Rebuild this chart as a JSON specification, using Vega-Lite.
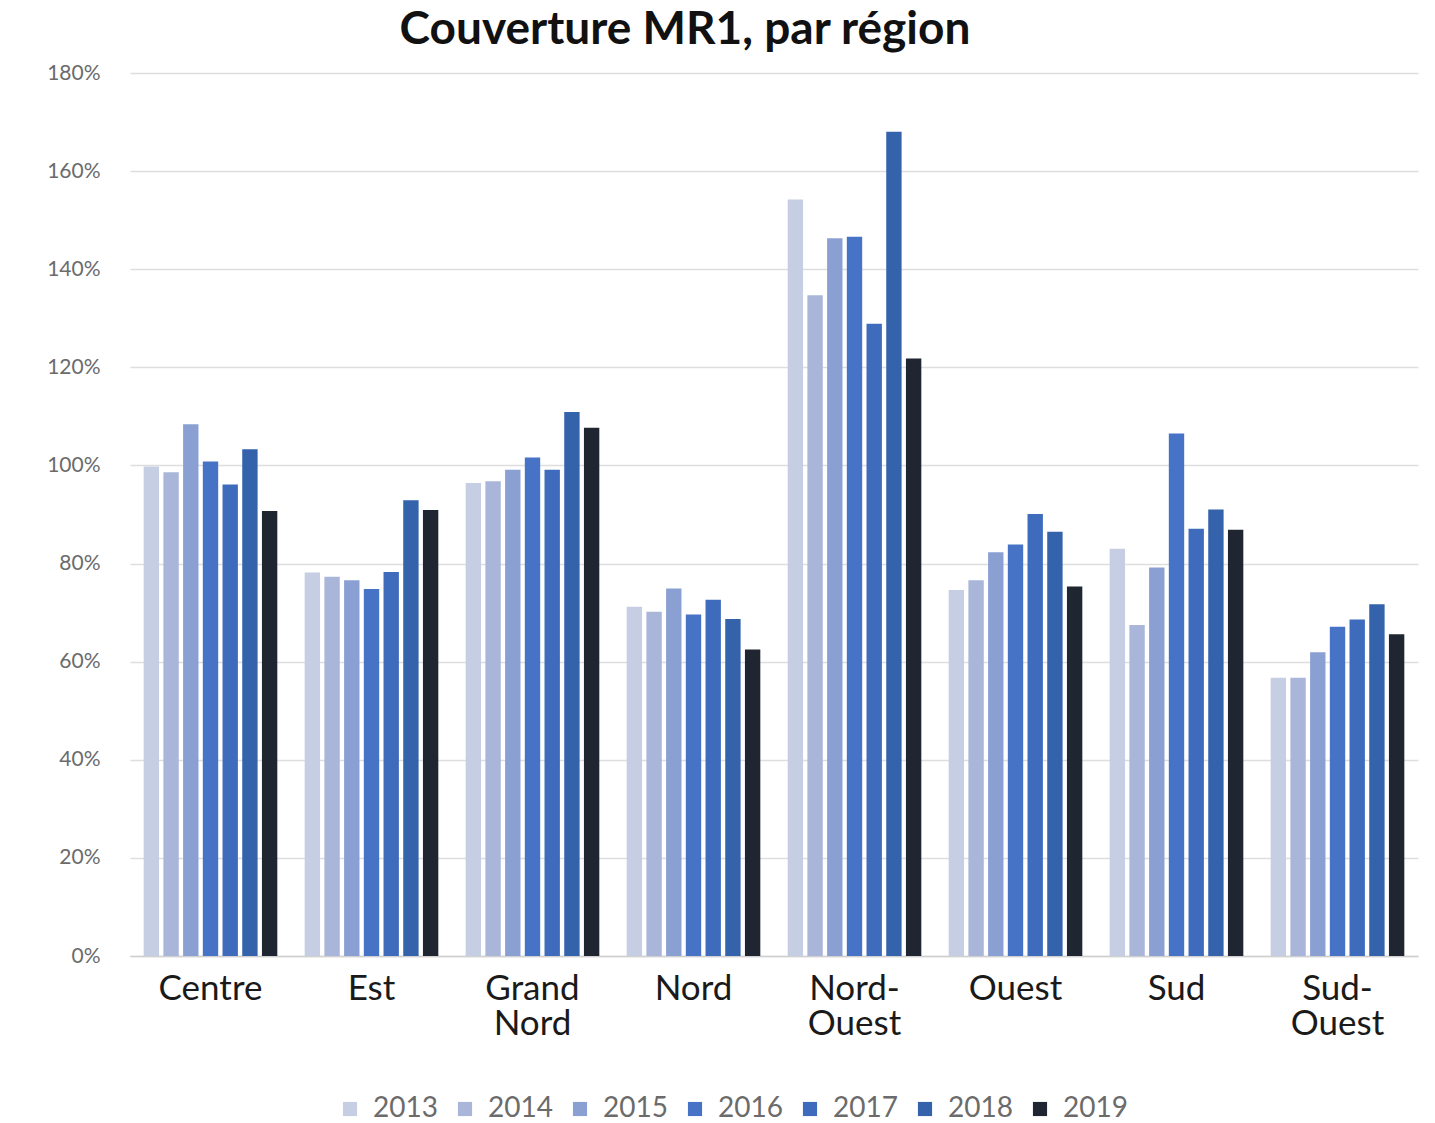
{
  "$schema": "https://vega.github.io/schema/vega-lite/v6.json",
  "width": 1288,
  "height": 883,
  "autosize": {"type": "none"},
  "padding": {"left": 130, "top": 73, "right": 17, "bottom": 167},
  "background": "white",
  "title": {
    "text": "Couverture MR1, par région",
    "font": "Lato",
    "fontSize": 46,
    "fontWeight": "bold",
    "color": "#111111",
    "anchor": "middle",
    "dx": -89,
    "offset": 8
  },
  "config": {
    "view": {"stroke": null},
    "font": "Lato"
  },
  "data": {
    "values": [
      {"region": "Centre", "year": "2013", "value": 99.8},
      {"region": "Centre", "year": "2014", "value": 98.6},
      {"region": "Centre", "year": "2015", "value": 108.4},
      {"region": "Centre", "year": "2016", "value": 100.8},
      {"region": "Centre", "year": "2017", "value": 96.1},
      {"region": "Centre", "year": "2018", "value": 103.3},
      {"region": "Centre", "year": "2019", "value": 90.7},
      {"region": "Est", "year": "2013", "value": 78.2},
      {"region": "Est", "year": "2014", "value": 77.3},
      {"region": "Est", "year": "2015", "value": 76.6},
      {"region": "Est", "year": "2016", "value": 74.8},
      {"region": "Est", "year": "2017", "value": 78.3},
      {"region": "Est", "year": "2018", "value": 92.9},
      {"region": "Est", "year": "2019", "value": 90.9},
      {"region": "Grand Nord", "year": "2013", "value": 96.4},
      {"region": "Grand Nord", "year": "2014", "value": 96.8},
      {"region": "Grand Nord", "year": "2015", "value": 99.1},
      {"region": "Grand Nord", "year": "2016", "value": 101.6},
      {"region": "Grand Nord", "year": "2017", "value": 99.1},
      {"region": "Grand Nord", "year": "2018", "value": 110.9},
      {"region": "Grand Nord", "year": "2019", "value": 107.7},
      {"region": "Nord", "year": "2013", "value": 71.2},
      {"region": "Nord", "year": "2014", "value": 70.2},
      {"region": "Nord", "year": "2015", "value": 74.9},
      {"region": "Nord", "year": "2016", "value": 69.6},
      {"region": "Nord", "year": "2017", "value": 72.6},
      {"region": "Nord", "year": "2018", "value": 68.7},
      {"region": "Nord", "year": "2019", "value": 62.5},
      {"region": "Nord-Ouest", "year": "2013", "value": 154.2},
      {"region": "Nord-Ouest", "year": "2014", "value": 134.7},
      {"region": "Nord-Ouest", "year": "2015", "value": 146.3},
      {"region": "Nord-Ouest", "year": "2016", "value": 146.6},
      {"region": "Nord-Ouest", "year": "2017", "value": 128.9},
      {"region": "Nord-Ouest", "year": "2018", "value": 168.0},
      {"region": "Nord-Ouest", "year": "2019", "value": 121.8},
      {"region": "Ouest", "year": "2013", "value": 74.6},
      {"region": "Ouest", "year": "2014", "value": 76.6},
      {"region": "Ouest", "year": "2015", "value": 82.3},
      {"region": "Ouest", "year": "2016", "value": 83.9},
      {"region": "Ouest", "year": "2017", "value": 90.1},
      {"region": "Ouest", "year": "2018", "value": 86.5},
      {"region": "Ouest", "year": "2019", "value": 75.3},
      {"region": "Sud", "year": "2013", "value": 83.0},
      {"region": "Sud", "year": "2014", "value": 67.5},
      {"region": "Sud", "year": "2015", "value": 79.2},
      {"region": "Sud", "year": "2016", "value": 106.5},
      {"region": "Sud", "year": "2017", "value": 87.1},
      {"region": "Sud", "year": "2018", "value": 91.0},
      {"region": "Sud", "year": "2019", "value": 86.9},
      {"region": "Sud-Ouest", "year": "2013", "value": 56.7},
      {"region": "Sud-Ouest", "year": "2014", "value": 56.7},
      {"region": "Sud-Ouest", "year": "2015", "value": 61.9},
      {"region": "Sud-Ouest", "year": "2016", "value": 67.1},
      {"region": "Sud-Ouest", "year": "2017", "value": 68.6},
      {"region": "Sud-Ouest", "year": "2018", "value": 71.7},
      {"region": "Sud-Ouest", "year": "2019", "value": 65.6}
    ]
  },
  "mark": {"type": "bar"},
  "encoding": {
    "x": {
      "field": "region",
      "type": "nominal",
      "sort": null,
      "scale": {"paddingInner": 0.17, "paddingOuter": 0.085},
      "axis": {
        "title": null,
        "labelAngle": 0,
        "labelFontSize": 35,
        "labelColor": "#1a1a1a",
        "labelPadding": 15,
        "labelLineHeight": 35,
        "labelBaseline": "top",
        "labelOverlap": false,
        "labelBound": false,
        "ticks": false,
        "domainColor": "#d0d0d0",
        "domainWidth": 1.5,
        "labelExpr": "datum.label == 'Grand Nord' ? ['Grand', 'Nord'] : datum.label == 'Nord-Ouest' ? ['Nord-', 'Ouest'] : datum.label == 'Sud-Ouest' ? ['Sud-', 'Ouest'] : datum.label"
      }
    },
    "xOffset": {
      "field": "year",
      "type": "nominal",
      "scale": {"paddingInner": 0.22}
    },
    "y": {
      "field": "value",
      "type": "quantitative",
      "scale": {"domain": [0, 180], "nice": false},
      "axis": {
        "title": null,
        "values": [0, 20, 40, 60, 80, 100, 120, 140, 160, 180],
        "labelExpr": "datum.value + '%'",
        "labelFontSize": 21,
        "labelColor": "#6b6b6b",
        "labelPadding": 30,
        "ticks": false,
        "domain": false,
        "gridColor": "#dedede",
        "gridWidth": 1.5
      }
    },
    "color": {
      "field": "year",
      "type": "nominal",
      "scale": {
        "domain": ["2013", "2014", "2015", "2016", "2017", "2018", "2019"],
        "range": ["#c6cee4", "#a9b6d9", "#8a9fd2", "#4673c5", "#3f6bbd", "#3462ab", "#1f2631"]
      },
      "legend": {
        "title": null,
        "orient": "none",
        "legendX": 206,
        "legendY": 1022,
        "direction": "horizontal",
        "symbolType": "square",
        "symbolSize": 200,
        "symbolStrokeWidth": 0,
        "labelFontSize": 28,
        "labelColor": "#6b6b6b",
        "columnPadding": 13,
        "labelOffset": 9
      }
    }
  }
}
